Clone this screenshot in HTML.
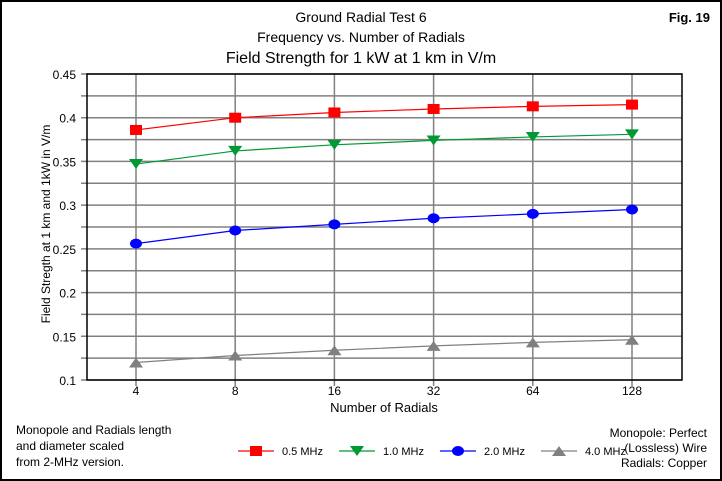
<!DOCTYPE html>
<html><head><meta charset="utf-8"><style>
body{margin:0;background:#fff}
svg{display:block;font-family:"Liberation Sans",Arial,sans-serif}
</style></head><body>
<svg width="722" height="481" viewBox="0 0 722 481">
<rect x="1" y="1" width="720" height="479" fill="#fff" stroke="#000" stroke-width="2"/>
<text x="361" y="22" text-anchor="middle" font-size="14">Ground Radial Test 6</text>
<text x="361" y="42" text-anchor="middle" font-size="14">Frequency vs. Number of Radials</text>
<text x="361" y="63" text-anchor="middle" font-size="16">Field Strength for 1 kW at 1 km in V/m</text>
<text x="710" y="22" text-anchor="end" font-size="13" font-weight="bold">Fig. 19</text>
<g id="grid"></g>
<rect x="87" y="74" width="595" height="306" fill="none" stroke="#000" stroke-width="1.5"/>
<g id="series"></g>
<text transform="translate(50,224) rotate(-90)" text-anchor="middle" font-size="12">Field Stregth at 1 km and 1kW in V/m</text>
<text x="384" y="412" text-anchor="middle" font-size="13">Number of Radials</text>
<text font-size="12"><tspan x="16" y="434">Monopole and Radials length</tspan><tspan x="16" y="450">and diameter scaled</tspan><tspan x="16" y="466">from 2-MHz version.</tspan></text>
<text font-size="12" text-anchor="end"><tspan x="707" y="437">Monopole: Perfect</tspan><tspan x="707" y="452">(Lossless) Wire</tspan><tspan x="707" y="467">Radials: Copper</tspan></text>
<g id="legend"></g>
</svg>
<script>
const categories=["4","8","16","32","64","128"];
const seriesNames=["0.5 MHz","1.0 MHz","2.0 MHz","4.0 MHz"];
const s05=[0.386,0.400,0.406,0.410,0.413,0.415];
const s10=[0.347,0.362,0.369,0.374,0.378,0.381];
const s20=[0.256,0.271,0.278,0.285,0.290,0.295];
const s40=[0.120,0.128,0.134,0.139,0.143,0.146];
const yTicks=["0.1","0.15","0.2","0.25","0.3","0.35","0.4","0.45"];
const NS="http://www.w3.org/2000/svg";
const X0=87,X1=682,Y0=380,Y1=74,YMIN=0.1,YMAX=0.45;
const xs=i=>136+i*99.2;
const ys=v=>Y0-(v-YMIN)/(YMAX-YMIN)*(Y0-Y1);
function mk(t,a,p){const e=document.createElementNS(NS,t);for(const k in a)e.setAttribute(k,a[k]);p.appendChild(e);return e;}
const grid=document.getElementById('grid');
for(let v=YMIN;v<=YMAX+1e-9;v+=0.025){
 const y=ys(v);
 const l=mk('line',{x1:X0-6,x2:X1,y1:y,y2:y,stroke:'#808080','stroke-width':1.5},grid);
 
 
}
yTicks.forEach(t=>{
 const e=mk('text',{x:76,y:ys(parseFloat(t))+5,'text-anchor':'end','font-size':12},grid);
 e.textContent=t;
 
 
});
categories.forEach((c,i)=>{
 const x=xs(i);
 const l=mk('line',{x1:x,x2:x,y1:Y1,y2:Y0+6,stroke:'#808080','stroke-width':1.5},grid);
 
 
 const t=mk('text',{x:x,y:395,'text-anchor':'middle','font-size':12},grid);
 t.textContent=c;
 
 
});
const colors=['#ff0000','#009933','#0000ff','#808080'];
const markers=['square','tridown','circle','triup'];
function marker(kind,x,y,col,p){
 let e;
 if(kind==='square')e=mk('rect',{x:x-6,y:y-5,width:12,height:10,fill:col},p);
 else if(kind==='circle')e=mk('ellipse',{cx:x,cy:y,rx:6,ry:5,fill:col},p);
 else if(kind==='tridown')e=mk('polygon',{points:`${x-7},${y-5} ${x+7},${y-5} ${x},${y+5}`,fill:col},p);
 else e=mk('polygon',{points:`${x-7},${y+5} ${x+7},${y+5} ${x},${y-5}`,fill:col},p);
 return e;
}
const sg=document.getElementById('series');
[s05,s10,s20,s40].forEach((d,k)=>{
 const g=mk('g',{},sg);
 
 
 const pl=mk('polyline',{points:d.map((v,i)=>xs(i)+','+ys(v)).join(' '),fill:'none',stroke:colors[k],'stroke-width':1.2},g);
 
 
 d.forEach((v,i)=>{
  const m=marker(markers[k],xs(i),ys(v),colors[k],g);
  
  
 });
});
const lg=document.getElementById('legend');
const lx=[238,339,440,541];
seriesNames.forEach((n,k)=>{
 const g=mk('g',{},lg);
 
 
 mk('line',{x1:lx[k],x2:lx[k]+36,y1:451,y2:451,stroke:colors[k],'stroke-width':1.2},g);
 marker(markers[k],lx[k]+18,451,colors[k],g);
 const t=mk('text',{x:lx[k]+44,y:455,'font-size':11},g);
 t.textContent=n;
});
</script>
</body></html>
